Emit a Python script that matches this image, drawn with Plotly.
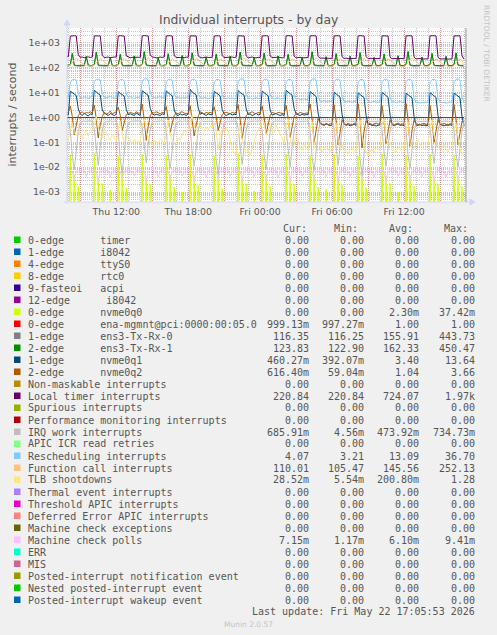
import numpy as np
import pandas as pd
import plotly.graph_objects as go

# ---------------- data (10-minute samples, Thu 07:50 -> Fri 17:00) ----------------
start_time = "2026-05-21 07:50"
n_points = 200

local_timer = [
    290,
    280, 1880, 1950, 1940, 1900, 330, 265, 270, 255, 262, 275, 260,
    270, 1920, 1960, 1955, 1910, 310, 258, 262, 270, 250, 265, 272,
    268, 1900, 1950, 1945, 1880, 300, 270, 255, 262, 268, 258, 265,
    262, 1930, 1965, 1950, 1900, 320, 275, 262, 250, 258, 270, 262,
    270, 1910, 1955, 1948, 1890, 305, 260, 268, 258, 262, 255, 268,
    265, 1920, 1960, 1950, 1905, 300, 262, 250, 268, 272, 260, 255,
    262, 1900, 1950, 1940, 1880, 310, 258, 265, 255, 262, 270, 258,
    268, 1925, 1958, 1950, 1900, 300, 250, 262, 270, 258, 250, 262,
    260, 1910, 1965, 1955, 1895, 295, 258, 252, 262, 268, 255, 250,
    255, 1920, 1955, 1945, 1900, 290, 250, 258, 262, 248, 256, 262,
    258, 1915, 1960, 1950, 1905, 285, 245, 240, 250, 236, 242, 238,
    240, 1920, 1958, 1948, 1890, 275, 238, 245, 235, 240, 232, 238,
    236, 1910, 1950, 1940, 1900, 280, 232, 240, 236, 228, 235, 230,
    232, 1925, 1962, 1955, 1905, 270, 230, 236, 228, 232, 238, 228,
    230, 1915, 1958, 1950, 1895, 268, 226, 232, 236, 225, 230, 226,
    228, 1920, 1965, 1955, 1910, 265, 225, 230, 222, 228, 224, 228,
    226, 1910, 1960, 1955, 1930, 300, 221,
]

function_call = [
    120,
    117, 130, 165, 210, 235, 215, 175, 148, 132, 124, 119, 116,
    118, 126, 158, 198, 222, 208, 170, 142, 128, 121, 117, 115,
    116, 128, 162, 205, 228, 210, 168, 145, 131, 123, 118, 116,
    117, 132, 170, 215, 245, 220, 180, 150, 134, 125, 119, 117,
    115, 127, 160, 200, 225, 205, 172, 146, 130, 122, 118, 114,
    116, 129, 163, 206, 230, 212, 175, 148, 131, 123, 117, 115,
    115, 126, 158, 196, 218, 204, 168, 143, 128, 120, 116, 113,
    116, 128, 165, 210, 238, 218, 178, 150, 133, 124, 118, 115,
    114, 127, 162, 204, 232, 214, 174, 147, 131, 122, 117, 114,
    115, 128, 160, 200, 226, 208, 171, 145, 130, 121, 116, 113,
    114, 130, 168, 212, 250, 225, 182, 152, 134, 124, 118, 114,
    113, 126, 160, 200, 228, 210, 172, 146, 130, 121, 115, 112,
    114, 128, 163, 206, 235, 215, 176, 149, 132, 122, 116, 113,
    112, 127, 160, 202, 228, 210, 173, 147, 131, 121, 115, 112,
    113, 129, 166, 210, 240, 220, 180, 151, 133, 123, 116, 112,
    112, 126, 160, 200, 226, 208, 172, 146, 130, 120, 114, 111,
    111, 125, 158, 198, 225, 200, 110,
]

ens3_rx1 = [
    126,
    125, 132, 380, 130, 124, 123, 125, 124, 126, 285, 128, 124,
    124, 135, 420, 128, 123, 125, 124, 126, 124, 260, 126, 123,
    125, 130, 350, 127, 124, 124, 126, 123, 125, 300, 127, 125,
    123, 138, 445, 131, 125, 123, 124, 125, 124, 250, 126, 124,
    124, 130, 370, 128, 123, 124, 125, 124, 126, 310, 125, 123,
    125, 134, 400, 129, 124, 126, 124, 123, 125, 270, 127, 124,
    124, 131, 360, 127, 125, 123, 126, 124, 125, 290, 126, 125,
    123, 136, 430, 130, 124, 124, 125, 126, 124, 255, 125, 123,
    125, 132, 390, 128, 123, 125, 124, 125, 126, 300, 127, 124,
    124, 130, 350, 127, 124, 123, 125, 124, 125, 265, 126, 124,
    123, 137, 440, 131, 125, 124, 126, 123, 124, 280, 125, 123,
    124, 131, 375, 128, 123, 125, 124, 125, 126, 295, 127, 124,
    125, 135, 410, 129, 124, 123, 125, 124, 125, 260, 126, 123,
    123, 130, 360, 127, 125, 124, 126, 125, 124, 305, 125, 124,
    124, 138, 450, 130, 124, 123, 125, 124, 126, 270, 127, 123,
    124, 131, 380, 128, 123, 125, 124, 126, 125, 290, 126, 124,
    123, 133, 395, 129, 124, 124, 124,
]

ens3_rx0 = [
    118,
    117, 128, 370, 124, 117, 116, 118, 117, 119, 280, 120, 117,
    117, 130, 410, 122, 116, 118, 117, 119, 117, 255, 119, 116,
    118, 126, 340, 121, 117, 117, 119, 116, 118, 295, 120, 118,
    116, 132, 440, 125, 118, 116, 117, 118, 117, 245, 119, 117,
    117, 126, 360, 122, 116, 117, 118, 117, 119, 305, 118, 116,
    118, 130, 390, 123, 117, 119, 117, 116, 118, 265, 120, 117,
    117, 127, 350, 121, 118, 116, 119, 117, 118, 285, 119, 118,
    116, 131, 420, 124, 117, 117, 118, 119, 117, 250, 118, 116,
    118, 128, 380, 122, 116, 118, 117, 118, 119, 295, 120, 117,
    117, 126, 340, 121, 117, 116, 118, 117, 118, 260, 119, 117,
    116, 132, 435, 125, 118, 117, 119, 116, 117, 275, 118, 116,
    117, 127, 365, 122, 116, 118, 117, 118, 119, 290, 120, 117,
    118, 130, 400, 123, 117, 116, 118, 117, 118, 255, 119, 116,
    116, 126, 350, 121, 118, 117, 119, 118, 117, 300, 118, 117,
    117, 133, 443, 124, 117, 116, 118, 117, 119, 265, 120, 116,
    117, 127, 370, 122, 116, 118, 117, 119, 118, 285, 119, 117,
    116, 129, 385, 123, 117, 117, 116,
]

rescheduling = [
    6.8,
    6.5, 27, 33, 34, 31, 9.0, 6.4, 6.0, 6.8, 6.2, 5.9, 6.6,
    6.9, 29, 34, 35, 32, 8.5, 6.6, 6.1, 6.4, 7.0, 6.3, 6.0,
    6.2, 28, 33, 34, 30, 8.8, 6.5, 6.9, 6.2, 5.8, 6.4, 6.7,
    6.6, 30, 35, 36.7, 32, 9.2, 6.8, 6.3, 6.0, 6.5, 6.9, 6.2,
    6.4, 28, 34, 35, 31, 8.6, 6.2, 6.6, 5.9, 6.3, 6.0, 6.5,
    6.0, 29, 34, 34, 30, 8.4, 6.3, 5.9, 6.4, 6.1, 5.7, 6.2,
    5.9, 27, 33, 34, 31, 8.2, 6.0, 5.6, 6.2, 5.8, 6.1, 5.7,
    6.1, 29, 35, 36, 32, 8.5, 5.8, 6.2, 5.5, 5.9, 6.3, 5.8,
    5.7, 28, 34, 35, 31, 8.0, 6.1, 5.6, 5.9, 6.2, 5.5, 5.8,
    5.6, 28, 33, 34, 30, 7.8, 5.4, 5.8, 5.2, 5.5, 5.7, 5.1,
    5.3, 29, 35, 36, 32, 7.0, 4.6, 4.4, 4.8, 4.3, 4.6, 4.5,
    4.4, 28, 34, 35, 31, 6.8, 4.5, 4.2, 4.6, 4.4, 4.1, 4.5,
    4.3, 27, 33, 34, 30, 6.5, 4.4, 4.0, 4.3, 4.5, 4.1, 4.2,
    4.2, 28, 34, 35, 31, 6.4, 4.1, 4.3, 3.9, 4.2, 4.4, 4.0,
    4.1, 28, 34, 34, 30, 6.2, 4.0, 4.2, 3.8, 4.1, 3.9, 4.2,
    4.0, 27, 33, 34, 31, 6.0, 4.3, 3.9, 4.1, 3.8, 4.0, 4.2,
    4.1, 28, 34, 36, 32, 6.5, 4.07,
]

nvme0q1 = [
    1.3,
    1.25, 11.5, 9.8, 8.6, 7.6, 2.2, 1.4, 1.2, 1.5, 1.3, 1.15, 1.4,
    1.3, 12.5, 10.2, 9.0, 8.0, 2.0, 1.5, 1.3, 1.2, 1.45, 1.3, 1.2,
    1.35, 11.0, 9.4, 8.5, 7.2, 2.1, 1.3, 1.4, 1.25, 1.2, 1.5, 1.3,
    1.2, 12.0, 10.0, 8.8, 7.9, 2.3, 1.45, 1.25, 1.35, 1.3, 1.2, 1.4,
    1.3, 11.8, 9.6, 8.4, 7.5, 2.0, 1.3, 1.2, 1.4, 1.25, 1.35, 1.2,
    1.4, 13.6, 10.5, 9.2, 8.1, 2.4, 1.35, 1.5, 1.3, 1.2, 1.4, 1.3,
    1.25, 11.2, 9.5, 8.3, 7.4, 2.1, 1.4, 1.2, 1.3, 1.45, 1.25, 1.35,
    1.3, 12.2, 10.1, 8.9, 7.8, 2.2, 1.3, 1.4, 1.2, 1.3, 1.5, 1.25,
    1.35, 11.6, 9.7, 8.5, 7.5, 2.0, 1.25, 1.35, 1.45, 1.3, 1.2, 1.3,
    1.2, 12.4, 10.3, 9.0, 7.9, 2.3, 1.4, 1.3, 1.2, 1.35, 1.25, 1.3,
    1.3, 11.0, 9.2, 8.0, 7.0, 1.5, 0.6, 0.52, 0.48, 0.55, 0.5, 0.47,
    0.5, 10.5, 8.8, 7.6, 6.6, 1.3, 0.55, 0.48, 0.52, 0.46, 0.5, 0.53,
    0.48, 9.8, 8.4, 7.3, 6.3, 1.2, 0.5, 0.53, 0.47, 0.5, 0.45, 0.49,
    0.5, 10.2, 8.6, 7.5, 6.5, 1.25, 0.52, 0.47, 0.5, 0.55, 0.48, 0.5,
    0.46, 9.5, 8.2, 7.1, 6.2, 1.1, 0.5, 0.48, 0.52, 0.47, 0.5, 0.46,
    0.49, 10.0, 8.5, 7.4, 6.4, 1.2, 0.53, 0.49, 0.46, 0.5, 0.48, 0.51,
    0.48, 9.6, 8.3, 7.2, 6.3, 1.1, 0.46,
]

nvme0q2 = [
    1.5,
    1.6, 2.9, 1.1, 0.2, 0.55, 1.2, 1.5, 1.7, 1.4, 1.6, 1.5, 1.7,
    1.5, 3.2, 0.9, 0.15, 0.5, 1.1, 1.6, 1.4, 1.5, 1.8, 1.4, 1.5,
    1.7, 2.6, 1.2, 0.3, 0.7, 1.3, 1.4, 1.6, 1.5, 1.4, 1.7, 1.5,
    1.5, 3.4, 0.8, 0.12, 0.45, 1.2, 1.6, 1.5, 1.7, 1.5, 1.4, 1.6,
    1.6, 2.8, 1.0, 0.25, 0.6, 1.2, 1.5, 1.4, 1.6, 1.7, 1.5, 1.4,
    1.4, 3.0, 0.9, 0.18, 0.5, 1.1, 1.7, 1.5, 1.4, 1.6, 1.5, 1.6,
    1.5, 2.7, 1.1, 0.3, 0.65, 1.3, 1.5, 1.6, 1.5, 1.4, 1.6, 1.5,
    1.6, 3.3, 0.85, 0.14, 0.5, 1.2, 1.4, 1.6, 1.7, 1.5, 1.4, 1.6,
    1.5, 2.9, 1.0, 0.22, 0.55, 1.2, 1.6, 1.5, 1.4, 1.6, 1.5, 1.4,
    1.4, 3.1, 0.95, 0.16, 0.5, 1.1, 1.5, 1.4, 1.6, 1.5, 1.4, 1.5,
    1.5, 3.5, 0.9, 0.1, 0.35, 0.9, 0.6, 0.55, 0.5, 0.58, 0.52, 0.55,
    0.56, 3.2, 0.8, 0.08, 0.3, 0.8, 0.55, 0.5, 0.6, 0.52, 0.5, 0.57,
    0.55, 3.6, 0.9, 0.06, 0.28, 0.75, 0.52, 0.58, 0.5, 0.55, 0.6, 0.53,
    0.58, 3.0, 0.75, 0.09, 0.32, 0.8, 0.55, 0.5, 0.54, 0.6, 0.52, 0.55,
    0.52, 3.66, 0.85, 0.07, 0.3, 0.78, 0.56, 0.53, 0.5, 0.55, 0.58, 0.52,
    0.55, 3.1, 0.8, 0.1, 0.33, 0.82, 0.5, 0.55, 0.58, 0.52, 0.5, 0.56,
    0.54, 3.3, 0.9, 0.08, 0.3, 0.7, 0.616,
]

irq_work = [
    0.72,
    0.72, 0.3, 0.03, 0.008, 0.05, 0.28, 0.6, 0.7, 0.72, 0.7, 0.73, 0.71,
    0.72, 0.35, 0.05, 0.012, 0.07, 0.3, 0.62, 0.7, 0.71, 0.73, 0.7, 0.72,
    0.71, 0.28, 0.02, 0.006, 0.04, 0.25, 0.58, 0.69, 0.72, 0.71, 0.72, 0.7,
    0.73, 0.4, 0.06, 0.015, 0.08, 0.32, 0.63, 0.71, 0.7, 0.72, 0.71, 0.73,
    0.7, 0.3, 0.03, 0.009, 0.05, 0.27, 0.6, 0.7, 0.73, 0.7, 0.72, 0.71,
    0.72, 0.33, 0.04, 0.011, 0.06, 0.3, 0.61, 0.72, 0.7, 0.71, 0.73, 0.7,
    0.71, 0.27, 0.02, 0.005, 0.04, 0.24, 0.57, 0.69, 0.71, 0.72, 0.7, 0.72,
    0.72, 0.36, 0.05, 0.013, 0.07, 0.31, 0.62, 0.71, 0.72, 0.7, 0.71, 0.73,
    0.7, 0.3, 0.03, 0.008, 0.05, 0.28, 0.6, 0.7, 0.72, 0.71, 0.7, 0.72,
    0.71, 0.32, 0.04, 0.01, 0.06, 0.29, 0.61, 0.71, 0.7, 0.72, 0.71, 0.7,
    0.72, 0.29, 0.025, 0.007, 0.045, 0.26, 0.59, 0.7, 0.71, 0.7, 0.72, 0.71,
    0.7, 0.34, 0.045, 0.012, 0.065, 0.3, 0.62, 0.71, 0.72, 0.7, 0.71, 0.72,
    0.71, 0.28, 0.02, 0.0046, 0.04, 0.25, 0.58, 0.69, 0.7, 0.72, 0.7, 0.71,
    0.72, 0.33, 0.04, 0.011, 0.06, 0.3, 0.61, 0.7, 0.71, 0.7, 0.72, 0.7,
    0.7, 0.3, 0.03, 0.009, 0.05, 0.27, 0.6, 0.71, 0.7, 0.71, 0.7, 0.72,
    0.71, 0.35, 0.05, 0.014, 0.07, 0.31, 0.62, 0.7, 0.72, 0.7, 0.71, 0.7,
    0.72, 0.31, 0.035, 0.01, 0.055, 0.28, 0.686,
]

tlb_shootdowns = [
    0.15,
    0.12, 0.35, 0.6, 0.25, 0.18, 0.3, 0.2, 0.14, 0.22, 0.32, 0.18, 0.25,
    0.3, 0.55, 1.1, 0.4, 0.2, 0.15, 0.35, 0.25, 0.18, 0.12, 0.2, 0.15,
    0.11, 0.4, 0.7, 0.2, 0.1, 0.14, 0.18, 0.12, 0.09, 0.13, 0.1, 0.12,
    0.1, 0.5, 0.9, 0.3, 0.15, 0.1, 0.08, 0.12, 0.1, 0.09, 0.14, 0.11,
    0.09, 0.3, 0.8, 0.2, 0.12, 0.09, 0.1, 0.15, 0.12, 0.2, 0.3, 0.25,
    0.35, 0.6, 1.28, 0.45, 0.3, 0.4, 0.5, 0.35, 0.28, 0.4, 0.32, 0.45,
    0.4, 0.7, 0.3, 0.05, 0.2, 0.35, 0.25, 0.4, 0.3, 0.12, 0.05, 0.04,
    0.03, 0.2, 0.5, 0.15, 0.06, 0.04, 0.05, 0.03, 0.06, 0.1, 0.2, 0.3,
    0.4, 0.8, 0.6, 0.2, 0.3, 0.45, 0.35, 0.25, 0.5, 0.3, 0.2, 0.15,
    0.1, 0.5, 0.9, 0.15, 0.06, 0.08, 0.2, 0.12, 0.06, 0.05, 0.08, 0.06,
    0.05, 0.4, 0.7, 0.1, 0.04, 0.05, 0.06, 0.04, 0.05, 0.07, 0.05, 0.04,
    0.05, 0.3, 0.6, 0.12, 0.06, 0.08, 0.05, 0.04, 0.035, 0.05, 0.06, 0.045,
    0.04, 0.35, 0.8, 0.2, 0.06, 0.04, 0.03, 0.045, 0.05, 0.04, 0.06, 0.05,
    0.06, 0.5, 0.9, 0.15, 0.08, 0.1, 0.06, 0.05, 0.04, 0.06, 0.05, 0.07,
    0.05, 0.3, 0.7, 0.1, 0.05, 0.06, 0.08, 0.12, 0.09, 0.06, 0.05, 0.06,
    0.08, 0.4, 0.8, 0.2, 0.1, 0.07, 0.05, 0.06, 0.08, 0.05, 0.04, 0.06,
    0.07, 0.3, 0.6, 0.15, 0.05, 0.04, 0.0285,
]

mc_polls = [
    0.0072,
    0.0073, 0.0071, 0.0068, 0.0030, 0.0070, 0.0074, 0.0072, 0.0075, 0.0071, 0.0042, 0.0069, 0.0073,
    0.0074, 0.0072, 0.0070, 0.0026, 0.0069, 0.0075, 0.0073, 0.0071, 0.0074, 0.0038, 0.0070, 0.0072,
    0.0071, 0.0073, 0.0069, 0.0032, 0.0071, 0.0073, 0.0076, 0.0072, 0.0070, 0.0045, 0.0072, 0.0074,
    0.0073, 0.0070, 0.0071, 0.0028, 0.0068, 0.0072, 0.0094, 0.0073, 0.0071, 0.0040, 0.0071, 0.0073,
    0.0075, 0.0072, 0.0068, 0.0031, 0.0070, 0.0074, 0.0071, 0.0074, 0.0072, 0.0044, 0.0070, 0.0072,
    0.0072, 0.0074, 0.0070, 0.0027, 0.0071, 0.0073, 0.0075, 0.0072, 0.0070, 0.0039, 0.0072, 0.0074,
    0.0073, 0.0071, 0.0069, 0.0033, 0.0070, 0.0072, 0.0074, 0.0076, 0.0071, 0.0043, 0.0069, 0.0073,
    0.0074, 0.0072, 0.0071, 0.0029, 0.0068, 0.0074, 0.0072, 0.0073, 0.0075, 0.0041, 0.0071, 0.0072,
    0.0072, 0.0073, 0.0068, 0.0030, 0.0070, 0.0073, 0.0071, 0.0074, 0.0072, 0.0037, 0.0070, 0.0074,
    0.0073, 0.0070, 0.0070, 0.0026, 0.0071, 0.0075, 0.0073, 0.0072, 0.0074, 0.0044, 0.0072, 0.0071,
    0.0074, 0.0072, 0.0069, 0.0032, 0.0070, 0.0072, 0.0074, 0.0071, 0.0073, 0.0040, 0.0071, 0.0073,
    0.0071, 0.0073, 0.0070, 0.0028, 0.0069, 0.0074, 0.0072, 0.0075, 0.0070, 0.0042, 0.0070, 0.0072,
    0.0073, 0.0071, 0.0068, 0.0031, 0.0071, 0.0073, 0.0074, 0.0072, 0.0071, 0.0038, 0.0072, 0.0074,
    0.0072, 0.0074, 0.0071, 0.0027, 0.0070, 0.0072, 0.0071, 0.0073, 0.0075, 0.0043, 0.0069, 0.0072,
    0.0074, 0.0072, 0.0069, 0.0030, 0.0068, 0.0075, 0.0073, 0.0071, 0.0072, 0.0041, 0.0071, 0.0073,
    0.0073, 0.0071, 0.0070, 0.0029, 0.0071, 0.0073, 0.0074, 0.0072, 0.0070, 0.0039, 0.0070, 0.0072,
    0.0072, 0.0073, 0.0069, 0.0031, 0.0070, 0.0074, 0.00715,
]

nvme0q0 = [
    0,
    0, 0.032, 0, 0.005, 0, 0.0018, 0, 0, 0, 0, 0, 0,
    0, 0.0374, 0, 0.004, 0, 0.0022, 0, 0, 0, 0.0012, 0, 0,
    0, 0.028, 0, 0.006, 0, 0.0015, 0, 0, 0, 0, 0, 0,
    0, 0.033, 0, 0.0035, 0, 0.002, 0, 0, 0, 0, 0, 0,
    0, 0.03, 0, 0.005, 0, 0.0016, 0, 0, 0, 0.001, 0, 0,
    0, 0.034, 0, 0.0045, 0, 0.0019, 0, 0, 0, 0, 0, 0,
    0, 0.029, 0, 0.0055, 0, 0.0014, 0, 0, 0, 0, 0, 0,
    0, 0.035, 0, 0.004, 0, 0.0021, 0, 0, 0, 0.0011, 0, 0,
    0, 0.031, 0, 0.005, 0, 0.0017, 0, 0, 0, 0, 0, 0,
    0, 0.033, 0, 0.0038, 0, 0.002, 0, 0, 0, 0, 0, 0,
    0, 0.03, 0, 0.0052, 0, 0.0016, 0, 0, 0, 0.0013, 0, 0,
    0, 0.034, 0, 0.0042, 0, 0.0019, 0, 0, 0, 0, 0, 0,
    0, 0.029, 0, 0.006, 0, 0.0015, 0, 0, 0, 0, 0, 0,
    0, 0.036, 0, 0.0045, 0, 0.0022, 0, 0, 0, 0.001, 0, 0,
    0, 0.031, 0, 0.005, 0, 0.0018, 0, 0, 0, 0, 0, 0,
    0, 0.033, 0, 0.004, 0, 0.002, 0, 0, 0, 0, 0, 0,
    0, 0.03, 0, 0.0045, 0, 0.0017, 0,
]

ena_mgmnt = [0.999, 0.999]  # flat line, first and last sample

# ---------------- legend table ----------------
legend_labels = [
    "0-edge      timer", "1-edge      i8042", "4-edge      ttyS0", "8-edge      rtc0",
    "9-fasteoi   acpi", "12-edge      i8042", "0-edge      nvme0q0",
    "0-edge      ena-mgmnt@pci:0000:00:05.0", "1-edge      ens3-Tx-Rx-0",
    "2-edge      ens3-Tx-Rx-1", "1-edge      nvme0q1", "2-edge      nvme0q2",
    "Non-maskable interrupts", "Local timer interrupts", "Spurious interrupts",
    "Performance monitoring interrupts", "IRQ work interrupts", "APIC ICR read retries",
    "Rescheduling interrupts", "Function call interrupts", "TLB shootdowns",
    "Thermal event interrupts", "Threshold APIC interrupts", "Deferred Error APIC interrupts",
    "Machine check exceptions", "Machine check polls", "ERR", "MIS",
    "Posted-interrupt notification event", "Nested posted-interrupt event",
    "Posted-interrupt wakeup event",
]
legend_colors = [
    "#00CC00", "#0066B3", "#FF8000", "#FFCC00", "#330099", "#990099", "#CCFF00",
    "#FF0000", "#808080", "#008F00", "#00487D", "#B35A00", "#B38F00", "#6B006B",
    "#8FB300", "#B30000", "#BEBEBE", "#80FF80", "#80C9FF", "#FFC080", "#FFE680",
    "#AA80FF", "#EE00CC", "#FF8080", "#666600", "#FFBFFF", "#00FFCC", "#CC6699",
    "#999900", "#00CC00", "#0066B3",
]
Z = "0.00"
cur_vals = [Z, Z, Z, Z, Z, Z, Z, "999.13m", "116.35", "123.83", "460.27m", "616.40m", Z,
            "220.84", Z, Z, "685.91m", Z, "4.07", "110.01", "28.52m", Z, Z, Z, Z, "7.15m",
            Z, Z, Z, Z, Z]
min_vals = [Z, Z, Z, Z, Z, Z, Z, "997.27m", "116.25", "122.90", "392.07m", "59.04m", Z,
            "220.84", Z, Z, "4.56m", Z, "3.21", "105.47", "5.54m", Z, Z, Z, Z, "1.17m",
            Z, Z, Z, Z, Z]
avg_vals = [Z, Z, Z, Z, Z, Z, "2.30m", "1.00", "155.91", "162.33", "3.40", "1.04", Z,
            "724.07", Z, Z, "473.92m", Z, "13.09", "145.56", "200.80m", Z, Z, Z, Z, "6.10m",
            Z, Z, Z, Z, Z]
max_vals = [Z, Z, Z, Z, Z, Z, "37.42m", "1.00", "443.73", "450.47", "13.64", "3.66", Z,
            "1.97k", Z, Z, "734.73m", Z, "36.70", "252.13", "1.28", Z, Z, Z, Z, "9.41m",
            Z, Z, Z, Z, Z]
column_heads = ["Cur:", "Min:", "Avg:", "Max:"]

x_tick_times = ["2026-05-21 09:00", "2026-05-21 12:00", "2026-05-21 15:00", "2026-05-21 18:00",
                "2026-05-21 21:00", "2026-05-22 00:00", "2026-05-22 03:00", "2026-05-22 06:00",
                "2026-05-22 09:00", "2026-05-22 12:00", "2026-05-22 15:00"]
x_tick_text = ["", "Thu 12:00", "", "Thu 18:00", "", "Fri 00:00", "", "Fri 06:00", "",
               "Fri 12:00", ""]
y_tick_vals = [1e-3, 1e-2, 1e-1, 1e0, 1e1, 1e2, 1e3]
y_tick_text = ["1e-03", "1e-02", "1e-01", "1e+00", "1e+01", "1e+02", "1e+03"]

# ---------------- geometry ----------------
W, H = 497, 635
PL, PR, PT, PB = 67, 466, 28, 202


def fx(px):
    return (px - PL) / (PR - PL)


def fy(py):
    return (PB - py) / (PB - PT)


times = pd.date_range(start_time, periods=n_points, freq="10min")
for arr in [local_timer, function_call, ens3_rx1, ens3_rx0, rescheduling, nvme0q1, nvme0q2,
            irq_work, tlb_shootdowns, mc_polls, nvme0q0]:
    assert len(arr) == n_points, len(arr)

FLOOR = 1e-7  # zero values drawn below the log axis


def pos(v):
    a = np.asarray(v, dtype=float)
    return np.where(a > 0, a, FLOOR)


fig = go.Figure()
series = [
    (times, nvme0q0, 6),
    ([times[0], times[-1]], ena_mgmnt, 7),
    (times, ens3_rx0, 8),
    (times, ens3_rx1, 9),
    (times, nvme0q1, 10),
    (times, nvme0q2, 11),
    (times, local_timer, 13),
    (times, irq_work, 16),
    (times, rescheduling, 18),
    (times, function_call, 19),
    (times, tlb_shootdowns, 20),
    (times, mc_polls, 25),
]
for xs, ys, idx in series:
    fig.add_trace(go.Scatter(x=xs, y=pos(ys), mode="lines",
                             line=dict(color=legend_colors[idx], width=1),
                             showlegend=False, hoverinfo="skip"))

FONT = "DejaVu Sans"
MONO = "DejaVu Sans Mono"
TXT = "#555555"
MGRID = "rgba(222,79,79,0.42)"
GRID = "rgba(143,143,143,0.5)"

minor_y = [k * 10.0 ** d for d in range(-4, 4) for k in range(2, 10)]
minor_y = [v for v in minor_y if 10 ** -3.4 < v < 10 ** 3.6]

fig.update_xaxes(
    type="date", range=["2026-05-21 07:53:30", "2026-05-22 17:10:00"],
    tickmode="array", tickvals=x_tick_times, ticktext=x_tick_text,
    showgrid=True, gridcolor=MGRID, griddash="1px,1px", gridwidth=1,
    minor=dict(tickmode="linear", tick0="2026-05-21 00:00", dtick=3600000,
               showgrid=True, gridcolor=GRID, griddash="1px,1px", gridwidth=1),
    ticks="", showline=False, zeroline=False,
    tickfont=dict(family=FONT, size=9.4, color=TXT), ticklabelstandoff=3,
    fixedrange=True,
)
fig.update_yaxes(
    type="log", range=[-3.40, 3.60],
    tickmode="array", tickvals=y_tick_vals, ticktext=y_tick_text,
    showgrid=True, gridcolor=MGRID, griddash="1px,1px", gridwidth=1,
    minor=dict(tickmode="array", tickvals=minor_y, showgrid=True, gridcolor=GRID,
               griddash="1px,1px", gridwidth=1),
    ticks="", showline=False, zeroline=False,
    tickfont=dict(family=FONT, size=9.4, color=TXT), ticklabelstandoff=6,
    fixedrange=True,
)

AXIS = "#CFD6F8"
shapes = [
    # axis lines
    dict(type="line", xref="paper", yref="paper", x0=fx(PL), x1=fx(PL), y0=fy(PB + 2), y1=fy(23),
         line=dict(color=AXIS, width=1)),
    dict(type="line", xref="paper", yref="paper", x0=fx(PL - 3), x1=fx(471), y0=0, y1=0,
         line=dict(color=AXIS, width=1)),
    # arrows
    dict(type="path", xref="paper", yref="paper",
         path=f"M {fx(PL-3)},{fy(25)} L {fx(PL+3)},{fy(25)} L {fx(PL)},{fy(20)} Z",
         fillcolor=AXIS, line=dict(color=AXIS, width=1)),
    dict(type="path", xref="paper", yref="paper",
         path=f"M {fx(470)},{fy(PB-3)} L {fx(470)},{fy(PB+3)} L {fx(475)},{fy(PB)} Z",
         fillcolor=AXIS, line=dict(color=AXIS, width=1)),
    # right frame line
    dict(type="line", xref="paper", yref="paper", x0=1, x1=1, y0=0, y1=1,
         line=dict(color="#9a9a9a", width=1)),
]

annotations = [
    dict(text="Individual interrupts - by day", x=fx(248), y=fy(19), xref="paper", yref="paper",
         showarrow=False, xanchor="center", yanchor="middle",
         font=dict(family=FONT, size=12.4, color=TXT)),
    dict(text="interrupts / second", x=fx(11.5), y=fy(115), xref="paper", yref="paper",
         showarrow=False, textangle=-90, xanchor="center", yanchor="middle",
         font=dict(family=FONT, size=11, color=TXT)),
    dict(text="RRDTOOL / TOBI OETIKER", x=fx(487), y=fy(53), xref="paper", yref="paper",
         showarrow=False, textangle=90, xanchor="center", yanchor="middle",
         font=dict(family=FONT, size=7.5, color="#c4c4c4")),
    dict(text="Munin 2.0.57", x=fx(248), y=fy(624), xref="paper", yref="paper",
         showarrow=False, xanchor="center", yanchor="middle",
         font=dict(family=FONT, size=7.5, color="#c4c4c4")),
    dict(text="Last update: Fri May 22 17:05:53 2026".replace(" ", "\u00a0"),
         x=fx(476.7), y=fy(611.7), xref="paper", yref="paper",
         showarrow=False, xanchor="right", yanchor="middle",
         font=dict(family=MONO, size=10, color=TXT)),
]

head_x = [280.7, 331.7, 386.7, 441.7]
for hx, ht in zip(head_x, column_heads):
    annotations.append(dict(text=ht, x=fx(hx), y=fy(228), xref="paper", yref="paper",
                            showarrow=False, xanchor="left", yanchor="middle",
                            font=dict(family=MONO, size=10, color=TXT)))

col_right = [310.7, 366, 421, 476.7]
for i, lab in enumerate(legend_labels):
    ry = 240 + 12 * i
    shapes.append(dict(type="rect", xref="paper", yref="paper",
                       x0=fx(14), x1=fx(20.5), y0=fy(ry + 3), y1=fy(ry - 3.5),
                       fillcolor=legend_colors[i], line=dict(width=0)))
    annotations.append(dict(text=lab.replace(" ", "\u00a0"), x=fx(26), y=fy(ry),
                            xref="paper", yref="paper", showarrow=False,
                            xanchor="left", yanchor="middle",
                            font=dict(family=MONO, size=10, color=TXT)))
    for cx, vals in zip(col_right, [cur_vals, min_vals, avg_vals, max_vals]):
        annotations.append(dict(text=vals[i], x=fx(cx), y=fy(ry),
                                xref="paper", yref="paper", showarrow=False,
                                xanchor="right", yanchor="middle",
                                font=dict(family=MONO, size=10, color=TXT)))

fig.update_layout(
    width=W, height=H, autosize=False,
    margin=dict(l=PL, r=W - PR, t=PT, b=H - PB, pad=0),
    paper_bgcolor="#F0F0F0", plot_bgcolor="#FFFFFF",
    shapes=shapes, annotations=annotations,
    showlegend=False, hovermode=False,
)

fig.write_html(
    "out.html",
    config={"displayModeBar": False, "staticPlot": True},
    post_script="document.body.style.margin='0px';document.body.style.background='#F0F0F0';",
)
